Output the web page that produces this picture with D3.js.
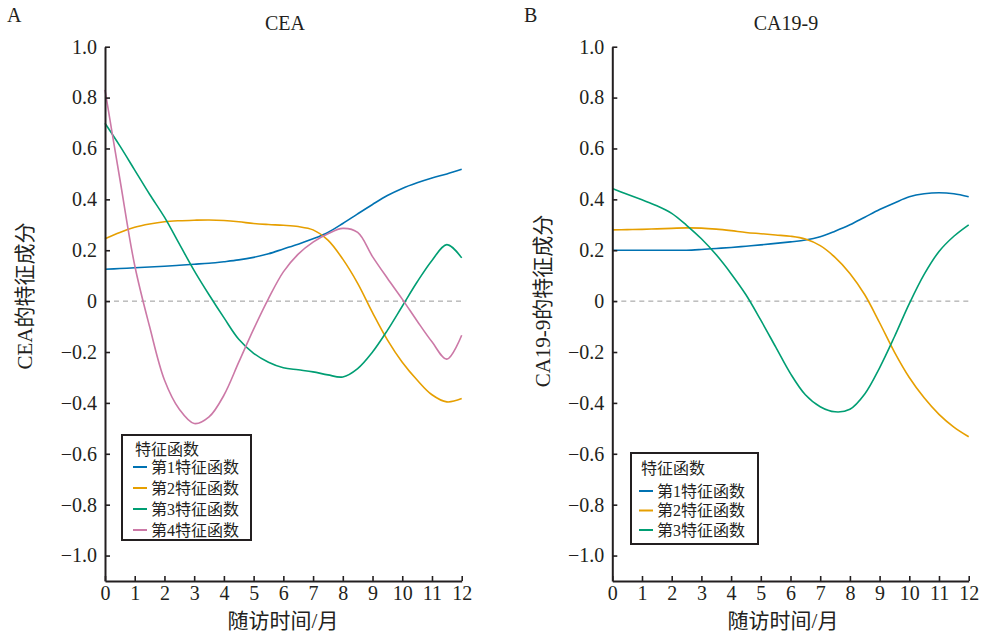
<!DOCTYPE html>
<html>
<head>
<meta charset="utf-8">
<script src="https://cdn.jsdelivr.net/npm/d3@7/dist/d3.min.js"></script>
<style>
  body { margin: 0; background: #fff; }
  svg text { font-family: "Liberation Serif", "Noto Sans CJK SC", serif; fill: #231f20; }
</style>
</head>
<body>
<div id="chart"></div>
<script>
const width = 987;
const height = 634;

// follow-up months (shared grid for every eigenfunction)
const months = [0, 0.5, 1, 1.5, 2, 2.5, 3, 3.5, 4, 4.5, 5, 5.5, 6,
                6.5, 7, 7.5, 8, 8.5, 9, 9.5, 10, 10.5, 11, 11.5, 12];

// CEA eigenfunctions
const ceaF1 = [0.125, 0.128, 0.131, 0.134, 0.137, 0.141, 0.145, 0.149, 0.155, 0.162, 0.172, 0.186, 0.205,
               0.224, 0.245, 0.270, 0.305, 0.343, 0.380, 0.415, 0.443, 0.465, 0.484, 0.500, 0.518];
const ceaF2 = [0.245, 0.270, 0.290, 0.303, 0.312, 0.316, 0.318, 0.319, 0.317, 0.312, 0.305, 0.301, 0.298,
               0.293, 0.280, 0.240, 0.165, 0.070, -0.045, -0.152, -0.240, -0.310, -0.368, -0.396, -0.383];
const ceaF3 = [0.699, 0.610, 0.515, 0.420, 0.330, 0.225, 0.120, 0.025, -0.065, -0.150, -0.205, -0.240, -0.262,
               -0.270, -0.278, -0.290, -0.298, -0.265, -0.200, -0.115, -0.020, 0.075, 0.160, 0.222, 0.170];
const ceaF4 = [0.830, 0.480, 0.140, -0.100, -0.310, -0.425, -0.481, -0.455, -0.370, -0.240, -0.110, 0.010, 0.115,
               0.185, 0.232, 0.265, 0.286, 0.270, 0.175, 0.090, 0.008, -0.078, -0.160, -0.228, -0.134];

// CA19-9 eigenfunctions
const caF1 = [0.200, 0.200, 0.200, 0.200, 0.200, 0.200, 0.203, 0.207, 0.211, 0.216, 0.221, 0.227, 0.233,
              0.240, 0.253, 0.275, 0.300, 0.330, 0.360, 0.386, 0.410, 0.422, 0.426, 0.422, 0.410];
const caF2 = [0.280, 0.281, 0.282, 0.284, 0.286, 0.288, 0.287, 0.283, 0.277, 0.270, 0.265, 0.260, 0.255,
              0.244, 0.218, 0.172, 0.109, 0.025, -0.085, -0.200, -0.300, -0.380, -0.445, -0.495, -0.533];
const caF3 = [0.443, 0.420, 0.398, 0.375, 0.345, 0.298, 0.245, 0.182, 0.108, 0.025, -0.075, -0.180, -0.285,
              -0.368, -0.415, -0.435, -0.425, -0.365, -0.262, -0.140, -0.010, 0.105, 0.195, 0.255, 0.300];

const legendNames = ['第1特征函数', '第2特征函数', '第3特征函数', '第4特征函数'];
const colors = ['#0072B2', '#E69F00', '#009E73', '#CC79A7'];
const xTicks = [0, 1, 2, 3, 4, 5, 6, 7, 8, 9, 10, 11, 12];
const yTicks = [1.0, 0.8, 0.6, 0.4, 0.2, 0, -0.2, -0.4, -0.6, -0.8, -1.0];

const fontFamily = '"Liberation Serif", "Noto Sans CJK SC", serif';

const svg = d3.select('#chart').append('svg')
    .attr('width', width)
    .attr('height', height);

const plotTop = 46.7, plotBottom = 581;

function drawPanel(p) {
  const x = d3.scaleLinear().domain([0, 12]).range([p.left, p.right]);
  const y = d3.scaleLinear().domain([-1.1, 1.0]).range([plotBottom, plotTop]);
  const g = svg.append('g');

  // zero reference
  g.append('line')
      .attr('x1', x(0)).attr('x2', x(12))
      .attr('y1', y(0)).attr('y2', y(0))
      .attr('stroke', '#9a9a9a')
      .attr('stroke-width', 1)
      .attr('stroke-dasharray', '5,4');

  const line = d3.line()
      .x((d, i) => x(months[i]))
      .y(d => y(d))
      .curve(d3.curveCatmullRom.alpha(0.5));

  g.selectAll('path.curve').data(p.series).join('path')
      .attr('class', 'curve')
      .attr('d', line)
      .attr('fill', 'none')
      .attr('stroke', (d, i) => colors[i])
      .attr('stroke-width', 1.6);

  const yAxis = g.append('g')
      .attr('transform', `translate(${p.left},0)`)
      .call(d3.axisLeft(y).tickValues(yTicks).tickSize(-5).tickSizeOuter(0).tickPadding(8)
          .tickFormat(d => d === 0 ? '0' : d3.format('.1f')(d)));
  const xAxis = g.append('g')
      .attr('transform', `translate(0,${plotBottom})`)
      .call(d3.axisBottom(x).tickValues(xTicks).tickSize(-5).tickSizeOuter(0).tickPadding(5)
          .tickFormat(d3.format('d')));
  [yAxis, xAxis].forEach(a => {
    a.attr('font-family', fontFamily).attr('font-size', 20);
    a.select('.domain').attr('stroke', '#231f20').attr('stroke-width', 2);
    a.selectAll('.tick line').attr('stroke', '#231f20').attr('stroke-width', 1.6);
    a.selectAll('.tick text')
        .style('font-family', fontFamily)
        .attr('font-size', 20).attr('fill', '#231f20');
  });

  // titles and labels
  g.append('text').attr('x', p.letterX).attr('y', 22)
      .attr('font-size', 20).text(p.letter);
  g.append('text').attr('x', p.titleX).attr('y', 30)
      .attr('text-anchor', 'middle').attr('font-size', 20).text(p.title);
  g.append('text')
      .attr('transform', `translate(${p.ylabX},${p.ylabY}) rotate(-90)`)
      .attr('text-anchor', 'middle')
      .attr('dominant-baseline', 'central')
      .attr('font-size', 21)
      .text(p.ylabel);
  g.append('text').attr('x', p.xlabX).attr('y', 628)
      .attr('text-anchor', 'middle').attr('font-size', 21).text('随访时间/月');

  // legend
  const L = p.legend;
  const lg = g.append('g');
  lg.append('rect')
      .attr('x', L.x).attr('y', L.y).attr('width', L.w).attr('height', L.h)
      .attr('fill', '#fff').attr('stroke', '#231f20').attr('stroke-width', 2);
  lg.append('text')
      .attr('x', L.x + L.pad).attr('y', L.titleY)
      .attr('dominant-baseline', 'central')
      .attr('font-size', 16).text('特征函数');
  const item = lg.selectAll('g.item').data(p.series.map((s, i) => legendNames[i])).join('g')
      .attr('class', 'item')
      .attr('transform', (d, i) => `translate(${L.x + L.pad - 2},${L.firstY + i * L.step})`);
  item.append('line')
      .attr('x1', 0).attr('x2', 14)
      .attr('stroke', (d, i) => colors[i]).attr('stroke-width', 2);
  item.append('text')
      .attr('x', 18).attr('dominant-baseline', 'central')
      .attr('font-size', 16).text(d => d);
}

drawPanel({
  left: 105, right: 461.7, series: [ceaF1, ceaF2, ceaF3, ceaF4],
  letter: 'A', letterX: 7, title: 'CEA', titleX: 285,
  ylabel: 'CEA的特征成分', ylabX: 25, ylabY: 296, xlabX: 283,
  legend: {x: 122, y: 435, w: 129, h: 105, pad: 13, titleY: 449, firstY: 467, step: 21}
});

drawPanel({
  left: 612.3, right: 968.7, series: [caF1, caF2, caF3],
  letter: 'B', letterX: 524, title: 'CA19-9', titleX: 786,
  ylabel: 'CA19-9的特征成分', ylabX: 543, ylabY: 301, xlabX: 783,
  legend: {x: 631, y: 453, w: 127, h: 91, pad: 10, titleY: 468, firstY: 491, step: 19.5}
});
</script>
</body>
</html>
